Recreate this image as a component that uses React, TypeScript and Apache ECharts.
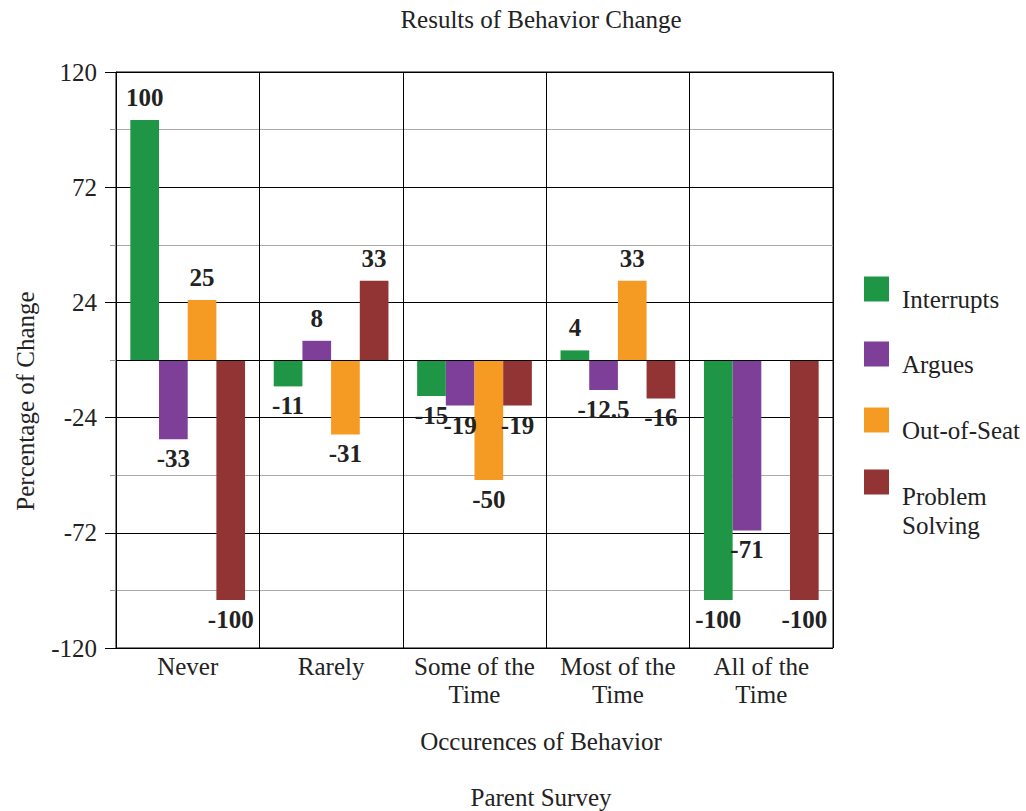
import React, { useEffect, useRef } from "react";
import * as echarts from "echarts";

const categories = ["Never", "Rarely", "Some of the\nTime", "Most of the\nTime", "All of the\nTime"];
const seriesNames = ["Interrupts", "Argues", "Out-of-Seat", "Problem Solving"];
const interrupts = [100, -11, -15, 4, -100];
const argues = [-33, 8, -19, -12.5, -71];
const outOfSeat: (number | null)[] = [25, -31, -50, 33, null];
const problemSolving = [-100, 33, -19, -16, -100];
const colors = ["#1e9645", "#7d3f98", "#f59a23", "#923334"];

const FONT = "'Liberation Serif', 'DejaVu Serif', serif";
const TXT = "#222";
const FS = 25;

function toData(arr: (number | null)[]) {
  return arr.map((v) =>
    v == null
      ? "-"
      : {
          value: v,
          label: {
            position: v >= 0 ? "top" : "bottom",
            distance: v >= 0 ? 10 : 7,
          },
        }
  );
}

export default function App() {
  const ref = useRef<HTMLDivElement>(null);
  useEffect(() => {
    if (!ref.current) return;
    const chart = echarts.init(ref.current, undefined, { renderer: "svg" });
    const allData = [interrupts, argues, outOfSeat, problemSolving];
    const legendTops = [266.5, 331.5, 397.5, 424];
    const option: any = {
      animation: false,
      backgroundColor: "#fff",
      grid: {
        left: 116,
        right: 193,
        top: 72,
        bottom: 163,
        show: true,
        borderColor: "#000",
        borderWidth: 1,
      },
      legend: seriesNames.map((n, i) => ({
        data: [n],
        left: 864,
        top: legendTops[i],
        padding: 0,
        itemWidth: 25,
        itemHeight: 25,
        icon: "rect",
        formatter: (name: string) => (i === 3 ? "\n\n" + name.replace(" ", "\n") : "\n" + name),
        textStyle: {
          fontFamily: FONT,
          fontSize: FS,
          color: TXT,
          lineHeight: i === 3 ? 29 : 20,
          padding: [0, 0, 0, 8],
        },
      })),
      xAxis: {
        type: "category",
        data: categories,
        axisLine: { show: true, lineStyle: { color: "#000" } },
        axisTick: { show: true, interval: 0, length: 8, lineStyle: { color: "#000" } },
        splitLine: { show: true, interval: 0, lineStyle: { color: "#000" } },
        axisLabel: {
          interval: 0,
          fontFamily: FONT,
          fontSize: FS,
          color: TXT,
          margin: 4,
          lineHeight: 28,
        },
      },
      yAxis: [
        {
          type: "value",
          min: -120,
          max: 120,
          interval: 24,
          axisLabel: { show: false },
          axisLine: { show: true, lineStyle: { color: "#000" } },
          axisTick: { show: true, length: 6, lineStyle: { color: "#999" } },
          splitLine: { show: true, lineStyle: { color: ["#000", "#aaa"] } },
        },
        {
          type: "value",
          position: "left",
          min: 0,
          max: 240,
          interval: 48,
          axisLine: { show: false },
          axisTick: { show: true, length: 11, lineStyle: { color: "#000" } },
          splitLine: { show: false },
          axisLabel: {
            formatter: (v: number) => String(v - 120),
            fontFamily: FONT,
            fontSize: FS,
            color: TXT,
            margin: 19,
          },
        },
      ],
      series: seriesNames.map((n, i) => ({
        name: n,
        type: "bar",
        yAxisIndex: 0,
        data: toData(allData[i]),
        barGap: "0%",
        barCategoryGap: "20%",
        itemStyle: { color: colors[i] },
        label: {
          show: true,
          fontFamily: FONT,
          fontSize: FS,
          fontWeight: "bold",
          color: TXT,
        },
        markLine:
          i === 0
            ? {
                silent: true,
                symbol: "none",
                label: { show: false },
                lineStyle: { color: "#000", type: "solid", width: 1 },
                data: [{ yAxis: 0 }],
              }
            : undefined,
      })),
      graphic: [
        {
          type: "text",
          x: 541,
          y: 19,
          style: { text: "Results of Behavior Change", fontFamily: FONT, fontSize: FS, fill: TXT, textAlign: "center", textVerticalAlign: "middle" },
        },
        {
          type: "text",
          x: 541,
          y: 741,
          style: { text: "Occurences of Behavior", fontFamily: FONT, fontSize: FS, fill: TXT, textAlign: "center", textVerticalAlign: "middle" },
        },
        {
          type: "text",
          x: 541,
          y: 797,
          style: { text: "Parent Survey", fontFamily: FONT, fontSize: FS, fill: TXT, textAlign: "center", textVerticalAlign: "middle" },
        },
        {
          type: "text",
          x: 25,
          y: 401,
          rotation: Math.PI / 2,
          style: { text: "Percentage of Change", fontFamily: FONT, fontSize: FS, fill: TXT, textAlign: "center", textVerticalAlign: "middle" },
        },
      ],
    };
    chart.setOption(option);
    return () => chart.dispose();
  }, []);
  return <div ref={ref} style={{ width: 1026, height: 811, position: "absolute", left: 0, top: 0 }} />;
}
